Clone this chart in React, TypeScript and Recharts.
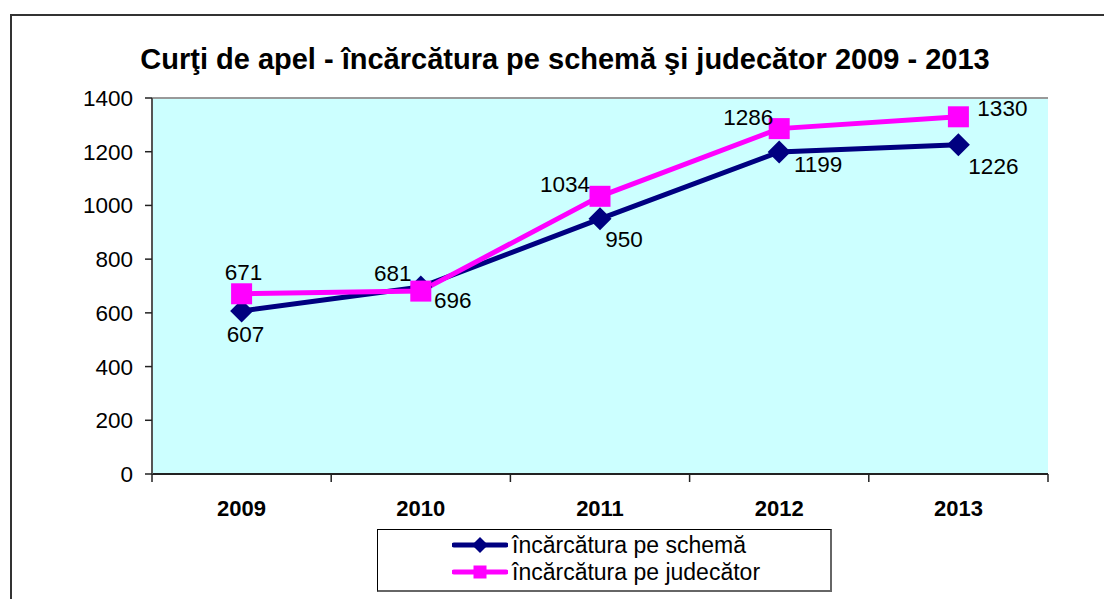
import React from 'react';
import {
  LineChart,
  Line,
  XAxis,
  YAxis,
  CartesianGrid,
  ReferenceLine,
  LabelList,
} from 'recharts';

const years = ['2009', '2010', '2011', '2012', '2013'];
const perSchema = [607, 696, 950, 1199, 1226];
const perJudge = [671, 681, 1034, 1286, 1330];
const yTicks = [0, 200, 400, 600, 800, 1000, 1200, 1400];

const schemaName = 'încărcătura pe schemă';
const judgeName = 'încărcătura pe judecător';
const title = 'Curţi de apel - încărcătura pe schemă şi judecător 2009 - 2013';

// label placement relative to each point (style only)
const schemaLabelOffset = [
  [4, 24],
  [32, 13],
  [24, 21],
  [39, 13],
  [35, 22],
];
const judgeLabelOffset = [
  [2, -21],
  [-28, -18],
  [-35, -12],
  [-31, -11],
  [44, -8],
];

const NAVY = '#000080';
const MAGENTA = '#FF00FF';
const FONT = '"Liberation Sans", Arial, sans-serif';

const data = years.map((year, i) => ({
  i,
  year,
  schema: perSchema[i],
  judge: perJudge[i],
}));

const boundaryTicks = [-0.5, 0.5, 1.5, 2.5, 3.5, 4.5];
const centerTicks = years.map((_, i) => i);

const Diamond = ({ cx, cy, r, fill }: any) => (
  <polygon
    points={`${cx},${cy - r} ${cx + r},${cy} ${cx},${cy + r} ${cx - r},${cy}`}
    fill={fill}
  />
);

const Square = ({ cx, cy, s, fill }: any) => (
  <rect x={cx - s / 2} y={cy - s / 2} width={s} height={s} fill={fill} />
);

const makeLabel = (offsets: number[][]) => (props: any) => {
  const { x, y, index, value } = props;
  const [dx, dy] = offsets[index] || [0, 0];
  return (
    <text
      key={`lbl-${index}`}
      x={x + dx}
      y={y + dy}
      textAnchor="middle"
      dominantBaseline="central"
      fontFamily={FONT}
      fontSize={22.5}
      fill="#000"
    >
      {value}
    </text>
  );
};

const LegendRow = ({ top, color, marker, label }: any) => (
  <div
    style={{
      position: 'absolute',
      left: 74,
      top,
      height: 26,
      display: 'flex',
      alignItems: 'center',
      whiteSpace: 'nowrap',
    }}
  >
    <svg width={56} height={26}>
      <line x1={2} y1={13} x2={54} y2={13} stroke={color} strokeWidth={5} strokeLinecap="round" />
      {marker === 'diamond' ? (
        <Diamond cx={28} cy={13} r={8} fill={color} />
      ) : (
        <Square cx={28} cy={13} s={13} fill={color} />
      )}
    </svg>
    <span style={{ fontFamily: FONT, fontSize: 23, marginLeft: 4, color: '#000' }}>{label}</span>
  </div>
);

export default function App() {
  return (
    <div style={{ position: 'absolute', left: 0, top: 0, width: 1104, height: 599, background: '#fff', overflow: 'hidden' }}>
      <div
        style={{
          position: 'absolute',
          left: 10,
          top: 14,
          width: 1200,
          height: 700,
          border: '2px solid #333',
          boxSizing: 'border-box',
        }}
      />
      <div
        style={{
          position: 'absolute',
          left: 0,
          top: 45,
          width: 1130,
          textAlign: 'center',
          fontFamily: FONT,
          fontWeight: 'bold',
          fontSize: 29,
          lineHeight: '29px',
          whiteSpace: 'nowrap',
        }}
      >
        {title}
      </div>
      <div style={{ position: 'absolute', left: 0, top: 0 }}>
        <LineChart
          width={1104}
          height={599}
          data={data}
          margin={{ top: 98, right: 56, left: 0, bottom: 67 }}
        >
          <CartesianGrid vertical={false} stroke="#222" fill="#CCFFFF" fillOpacity={1} />
          <XAxis
            xAxisId="ticks"
            type="number"
            dataKey="i"
            domain={[-0.5, 4.5]}
            ticks={boundaryTicks}
            tickFormatter={() => ''}
            tickSize={8}
            height={8}
            stroke="#222"
            axisLine={{ stroke: '#222', strokeWidth: 2 }}
            tickLine={{ stroke: '#222', strokeWidth: 1.5 }}
          />
          <XAxis
            xAxisId="years"
            type="number"
            dataKey="i"
            domain={[-0.5, 4.5]}
            ticks={centerTicks}
            tickFormatter={(v: number) => years[v]}
            axisLine={false}
            tickLine={false}
            tickSize={0}
            tickMargin={18}
            height={50}
            tick={{ fill: '#000', fontFamily: FONT, fontSize: 22, fontWeight: 'bold' }}
          />
          <YAxis
            yAxisId="left"
            type="number"
            domain={[0, 1400]}
            ticks={yTicks}
            width={152}
            tickSize={7}
            tickMargin={12}
            axisLine={{ stroke: '#555', strokeWidth: 2 }}
            tickLine={{ stroke: '#222', strokeWidth: 1.5 }}
            tick={{ fill: '#000', fontFamily: FONT, fontSize: 22.5 }}
            interval={0}
          />
          <YAxis
            yAxisId="right"
            orientation="right"
            type="number"
            domain={[0, 1400]}
            width={0}
            tick={false}
            tickLine={false}
            axisLine={{ stroke: '#999', strokeWidth: 2 }}
          />
          <ReferenceLine yAxisId="left" xAxisId="years" y={1400} stroke="#999" strokeWidth={2} />
          <Line
            xAxisId="years"
            yAxisId="left"
            dataKey="schema"
            name={schemaName}
            stroke={NAVY}
            strokeWidth={5}
            isAnimationActive={false}
            dot={(p: any) => <Diamond key={`d-${p.index}`} cx={p.cx} cy={p.cy} r={11.5} fill={NAVY} />}
            activeDot={false}
          >
            <LabelList dataKey="schema" content={makeLabel(schemaLabelOffset)} />
          </Line>
          <Line
            xAxisId="years"
            yAxisId="left"
            dataKey="judge"
            name={judgeName}
            stroke={MAGENTA}
            strokeWidth={5}
            isAnimationActive={false}
            dot={(p: any) => <Square key={`s-${p.index}`} cx={p.cx} cy={p.cy} s={21} fill={MAGENTA} />}
            activeDot={false}
          >
            <LabelList dataKey="judge" content={makeLabel(judgeLabelOffset)} />
          </Line>
        </LineChart>
      </div>
      <div
        style={{
          position: 'absolute',
          left: 377,
          top: 529,
          width: 455,
          height: 63,
          boxSizing: 'border-box',
          borderTop: '1.5px solid #000',
          borderLeft: '1.5px solid #000',
          borderRight: '2px solid #666',
          borderBottom: '2px solid #666',
          background: '#fff',
        }}
      >
        <LegendRow top={2} color={NAVY} marker="diamond" label={schemaName} />
        <LegendRow top={29} color={MAGENTA} marker="square" label={judgeName} />
      </div>
    </div>
  );
}
